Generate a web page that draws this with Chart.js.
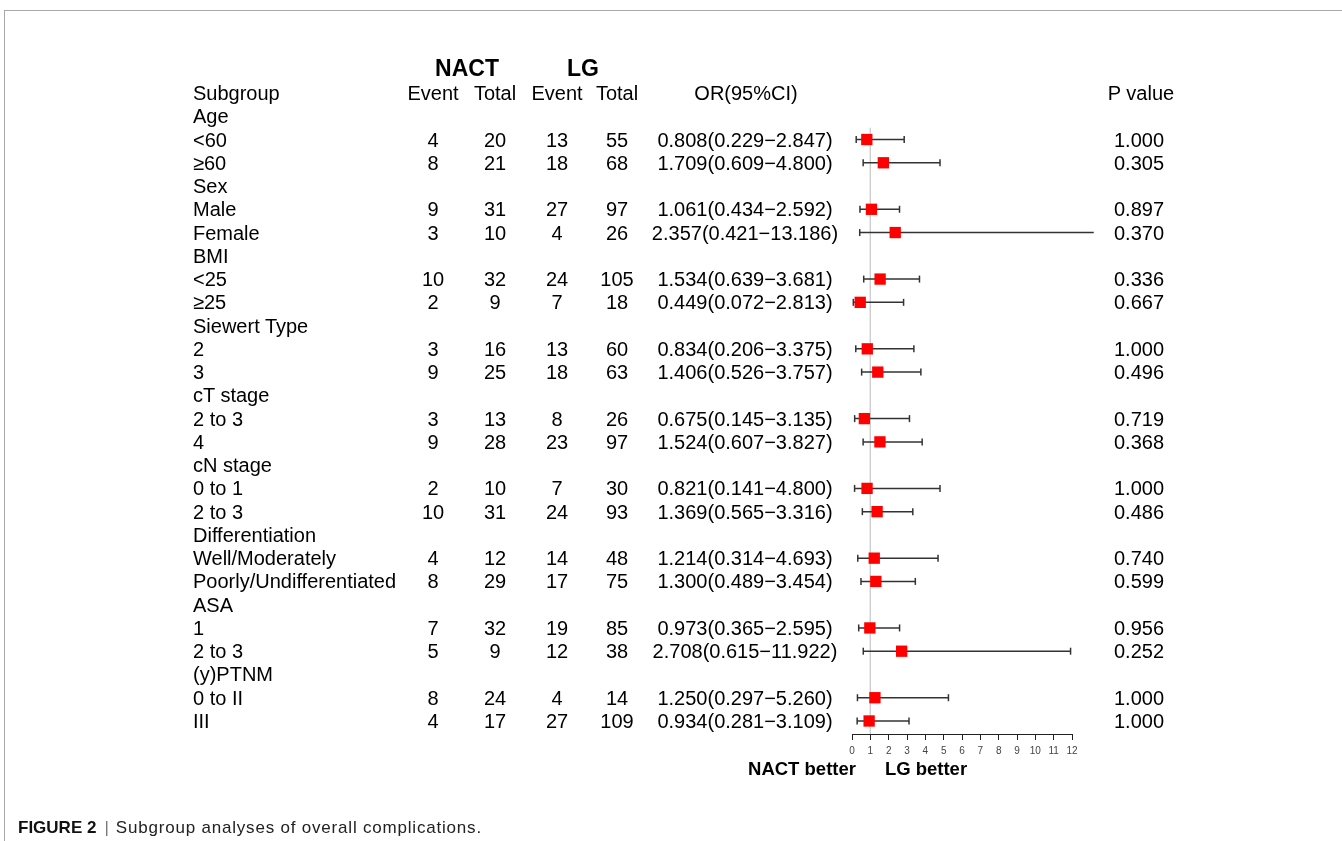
<!DOCTYPE html>
<html>
<head>
<meta charset="utf-8">
<script src="https://cdn.jsdelivr.net/npm/chart.js@4.4.1/dist/chart.umd.min.js"></script>
<style>
  html, body { margin: 0; padding: 0; background: #fff; }
  #wrap { position: relative; width: 1342px; height: 841px; overflow: hidden; font-family: "Liberation Sans", Arial, sans-serif; color: #000; }
  #frame { position: absolute; left: 4px; top: 10px; right: -2px; bottom: -2px; border-top: 1px solid #a8a8a8; border-left: 1px solid #a8a8a8; }
  #forest { position: absolute; left: 0; top: 0; }
  .t { position: absolute; font-size: 20px; white-space: nowrap; line-height: 1; }
  .c { transform: translate(-50%, -50%); }
  .l { transform: translateY(-50%); }
  .b { font-weight: bold; }
  #caption { position: absolute; left: 18px; top: 818px; font-size: 17px; color: #222; white-space: nowrap; }
  #caption b { color: #111; }
  #caption .bar { color: #777; margin: 0 7px 0 8px; }
  #caption .txt { letter-spacing: 0.8px; }
</style>
</head>
<body>
<div id="wrap">
  <div id="frame"></div>
  <canvas id="forest" width="1342" height="841"></canvas>
  <div id="caption"><b>FIGURE 2</b><span class="bar">|</span><span class="txt">Subgroup analyses of overall complications.</span></div>
</div>
<script>
'use strict';
(function forest () {
    var subgroups = ['Age', '<60', '≥60', 'Sex', 'Male', 'Female', 'BMI', '<25', '≥25',
        'Siewert Type', '2', '3', 'cT stage', '2 to 3', '4', 'cN stage', '0 to 1', '2 to 3',
        'Differentiation', 'Well/Moderately', 'Poorly/Undifferentiated', 'ASA', '1', '2 to 3',
        '(y)PTNM', '0 to II', 'III'];
    var nactEvent = [null, 4, 8, null, 9, 3, null, 10, 2, null, 3, 9, null, 3, 9, null, 2, 10, null, 4, 8, null, 7, 5, null, 8, 4];
    var nactTotal = [null, 20, 21, null, 31, 10, null, 32, 9, null, 16, 25, null, 13, 28, null, 10, 31, null, 12, 29, null, 32, 9, null, 24, 17];
    var lgEvent = [null, 13, 18, null, 27, 4, null, 24, 7, null, 13, 18, null, 8, 23, null, 7, 24, null, 14, 17, null, 19, 12, null, 4, 27];
    var lgTotal = [null, 55, 68, null, 97, 26, null, 105, 18, null, 60, 63, null, 26, 97, null, 30, 93, null, 48, 75, null, 85, 38, null, 14, 109];
    var oddsRatio = [null, 0.808, 1.709, null, 1.061, 2.357, null, 1.534, 0.449, null, 0.834, 1.406, null, 0.675, 1.524, null, 0.821, 1.369, null, 1.214, 1.300, null, 0.973, 2.708, null, 1.250, 0.934];
    var ciLow = [null, 0.229, 0.609, null, 0.434, 0.421, null, 0.639, 0.072, null, 0.206, 0.526, null, 0.145, 0.607, null, 0.141, 0.565, null, 0.314, 0.489, null, 0.365, 0.615, null, 0.297, 0.281];
    var ciHigh = [null, 2.847, 4.800, null, 2.592, 13.186, null, 3.681, 2.813, null, 3.375, 3.757, null, 3.135, 3.827, null, 4.800, 3.316, null, 4.693, 3.454, null, 2.595, 11.922, null, 5.260, 3.109];
    var pValue = [null, '1.000', '0.305', null, '0.897', '0.370', null, '0.336', '0.667', null, '1.000', '0.496', null, '0.719', '0.368', null, '1.000', '0.486', null, '0.740', '0.599', null, '0.956', '0.252', null, '1.000', '1.000'];
    var xTicks = [0, 1, 2, 3, 4, 5, 6, 7, 8, 9, 10, 11, 12];

    // row 0 is the column header line, subgroup rows start at 1
    var yMax = 27.56;
    var squares = [];
    var datasets = [];

    subgroups.forEach(function (name, i) {
        if (oddsRatio[i] === null) {
            return;
        }
        squares.push({ x: oddsRatio[i], y: i + 1 });
    });

    datasets.push({
        type: 'scatter',
        data: squares,
        pointStyle: 'rect',
        pointRadius: 8,
        backgroundColor: '#ff0000',
        borderWidth: 0,
        clip: false
    });

    subgroups.forEach(function (name, i) {
        if (oddsRatio[i] === null) {
            return;
        }
        datasets.push({
            type: 'line',
            data: [{ x: ciLow[i], y: i + 1 }, { x: ciHigh[i], y: i + 1 }],
            borderColor: '#333',
            borderWidth: 1.5,
            pointStyle: 'line',
            rotation: 90,
            pointRadius: 3.5,
            pointBorderColor: '#333',
            pointBorderWidth: 1.5,
            clip: false
        });
    });

    datasets.push({
        type: 'line',
        data: [{ x: 1, y: 1.5 }, { x: 1, y: yMax }],
        borderColor: '#cfcfcf',
        borderWidth: 1,
        pointRadius: 0,
        clip: false
    });

    var ctx = document.getElementById('forest').getContext('2d');
    var chart = new Chart(ctx, {
        type: 'scatter',
        data: { datasets: datasets },
        options: {
            responsive: false,
            animation: false,
            layout: { padding: { left: 852, right: 270, top: 93, bottom: 77 } },
            plugins: { legend: { display: false }, tooltip: { enabled: false } },
            scales: {
                x: {
                    type: 'linear',
                    min: 0,
                    max: 12,
                    afterBuildTicks: function (scale) {
                        scale.ticks = xTicks.map(function (v) { return { value: v }; });
                    },
                    afterFit: function (scale) { scale.height = 30; },
                    grid: { drawOnChartArea: false, drawTicks: true, tickLength: 6, color: '#222', lineWidth: 1 },
                    border: { display: true, color: '#222', width: 1 },
                    ticks: { font: { size: 10, family: 'Liberation Sans' }, color: '#444', padding: 5, maxRotation: 0, autoSkip: false }
                },
                y: {
                    type: 'linear',
                    reverse: true,
                    min: 0,
                    max: yMax,
                    display: false
                }
            }
        }
    });

    var wrap = document.getElementById('wrap');
    function put (text, x, y, cls) {
        var el = document.createElement('div');
        el.className = 't ' + cls;
        el.textContent = text;
        el.style.left = x + 'px';
        el.style.top = y + 'px';
        wrap.appendChild(el);
        return el;
    }

    var yScale = chart.scales.y;
    var area = chart.chartArea;
    var head = yScale.getPixelForValue(0);
    var colEventA = 433, colTotalA = 495, colEventB = 557, colTotalB = 617, colOr = 745, colP = 1139;

    put('NACT', 467, head - 25, 'c b').style.fontSize = '23px';
    put('LG', 583, head - 25, 'c b').style.fontSize = '23px';
    put('Subgroup', 193, head, 'l');
    put('Event', colEventA, head, 'c');
    put('Total', colTotalA, head, 'c');
    put('Event', colEventB, head, 'c');
    put('Total', colTotalB, head, 'c');
    put('OR(95%CI)', 746, head, 'c');
    put('P value', 1141, head, 'c');

    subgroups.forEach(function (name, i) {
        var y = yScale.getPixelForValue(i + 1);
        put(name, 193, y, 'l');
        if (oddsRatio[i] === null) {
            return;
        }
        put(String(nactEvent[i]), colEventA, y, 'c');
        put(String(nactTotal[i]), colTotalA, y, 'c');
        put(String(lgEvent[i]), colEventB, y, 'c');
        put(String(lgTotal[i]), colTotalB, y, 'c');
        put(oddsRatio[i].toFixed(3) + '(' + ciLow[i].toFixed(3) + '\u2212' + ciHigh[i].toFixed(3) + ')', colOr, y, 'c');
        put(pValue[i], colP, y, 'c');
    });

    var nb = put('NACT better', 802, area.bottom + 35, 'c b');
    nb.style.fontSize = '18.5px';
    var lb = put('LG better', 926, area.bottom + 35, 'c b');
    lb.style.fontSize = '18.5px';
}());
</script>
</body>
</html>
